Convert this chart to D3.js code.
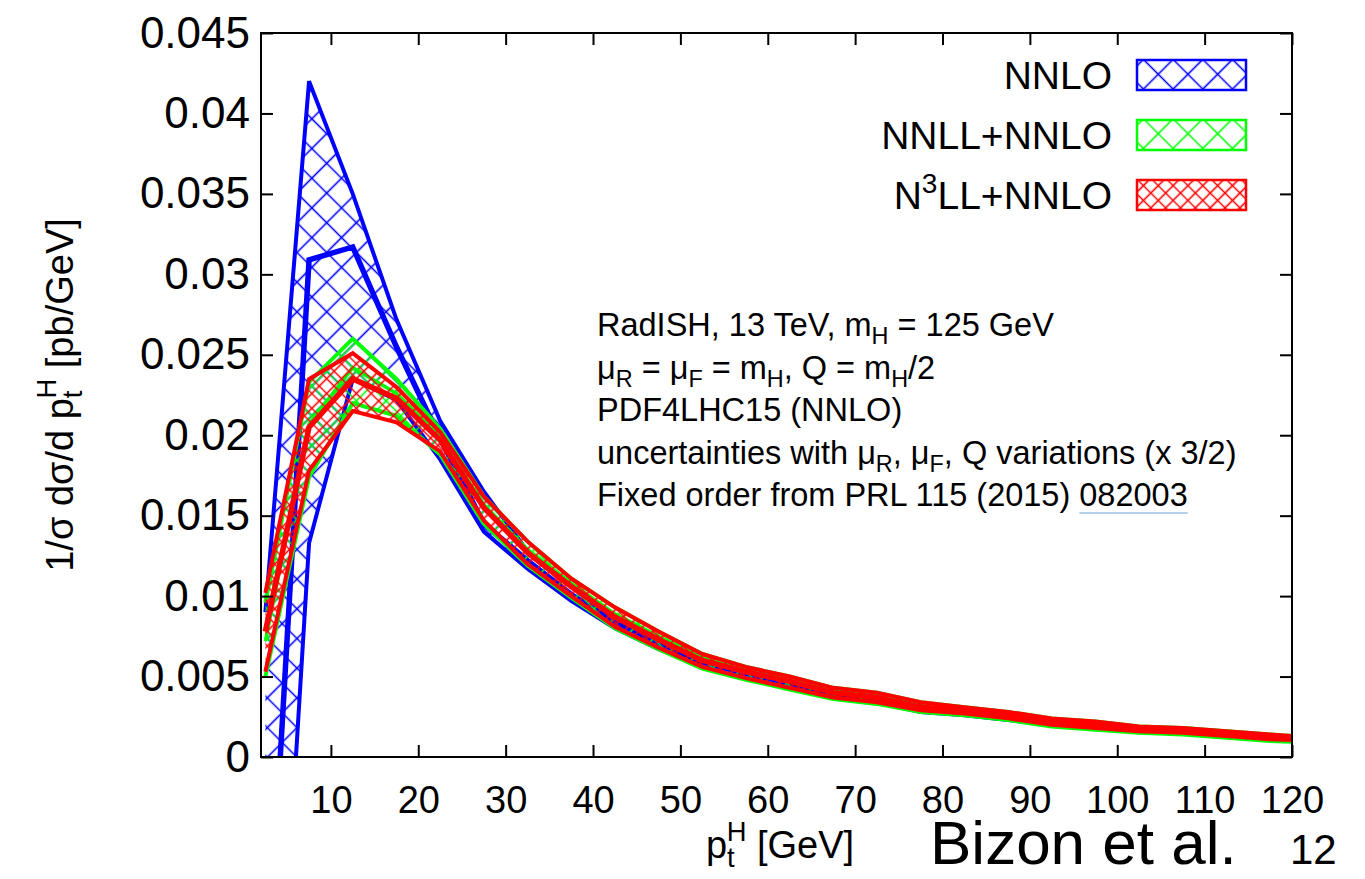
<!DOCTYPE html>
<html>
<head>
<meta charset="utf-8">
<style>
    body {
        margin: 0;
        background: white;
    }

    svg {
        display: block;
        font-family: "Liberation Sans", Arial, Helvetica, sans-serif;
    }
</style>
<script src="https://cdnjs.cloudflare.com/ajax/libs/d3/7.8.5/d3.min.js"></script>
</head>
<body>
<svg id="chart" width="1365" height="879"></svg>
<script>
// bin centres in GeV (last one is past the frame, only to carry the line to the edge)
let ptH = [2.5, 7.5, 12.5, 17.5, 22.5, 27.5, 32.5, 37.5, 42.5, 47.5, 52.5, 57.5, 62.5,
           67.5, 72.5, 77.5, 82.5, 87.5, 92.5, 97.5, 102.5, 107.5, 112.5, 117.5, 122.5]

// NNLO (fixed order)
let nnloUp  = [0.0090, 0.0420, 0.0350, 0.0272, 0.0209, 0.0165, 0.0128, 0.0106, 0.0088, 0.0074, 0.0062, 0.0054, 0.0048,
               0.0041, 0.0038, 0.0032, 0.0030, 0.0027, 0.0023, 0.0021, 0.0018, 0.0017, 0.0015, 0.0013, 0.0011]
let nnloMid = [-0.0160, 0.0309, 0.0317, 0.0255, 0.0198, 0.0145, 0.0122, 0.0101, 0.0084, 0.0071, 0.0059, 0.0052, 0.0046,
               0.0039, 0.0036, 0.0030, 0.0028, 0.0025, 0.0021, 0.0019, 0.0017, 0.0016, 0.0014, 0.0012, 0.0011]
let nnloLo  = [-0.0310, 0.0133, 0.0235, 0.0222, 0.0185, 0.0140, 0.0117, 0.0097, 0.0080, 0.0067, 0.0056, 0.0049, 0.0043,
               0.0037, 0.0034, 0.0028, 0.0026, 0.0023, 0.0020, 0.0018, 0.0016, 0.0015, 0.0013, 0.0011, 0.0010]

// NNLL+NNLO
let nnllUp  = [0.0096, 0.0233, 0.0260, 0.0235, 0.0204, 0.0162, 0.0134, 0.0111, 0.0093, 0.0078, 0.0064, 0.0056, 0.0050,
               0.0043, 0.0040, 0.0034, 0.0031, 0.0028, 0.0024, 0.0022, 0.0019, 0.0018, 0.0016, 0.0014, 0.0012]
let nnllMid = [0.0072, 0.0207, 0.0242, 0.0226, 0.0199, 0.0157, 0.0129, 0.0108, 0.0089, 0.0075, 0.0062, 0.0054, 0.0048,
               0.0041, 0.0038, 0.0032, 0.0029, 0.0026, 0.0022, 0.0020, 0.0018, 0.0016, 0.0015, 0.0013, 0.0011]
let nnllLo  = [0.0050, 0.0174, 0.0220, 0.0212, 0.0188, 0.0145, 0.0119, 0.0099, 0.0080, 0.0067, 0.0055, 0.0048, 0.0042,
               0.0036, 0.0033, 0.0028, 0.0026, 0.0023, 0.0019, 0.0017, 0.0015, 0.0014, 0.0012, 0.0010, 0.0009]

// N3LL+NNLO
let n3llUp  = [0.0102, 0.0235, 0.0251, 0.0230, 0.0202, 0.0162, 0.0134, 0.0111, 0.0093, 0.0078, 0.0064, 0.0056, 0.0050,
               0.0043, 0.0040, 0.0034, 0.0031, 0.0028, 0.0024, 0.0022, 0.0019, 0.0018, 0.0016, 0.0014, 0.0012]
let n3llMid = [0.0078, 0.0205, 0.0235, 0.0223, 0.0197, 0.0155, 0.0127, 0.0106, 0.0087, 0.0073, 0.0060, 0.0053, 0.0047,
               0.0040, 0.0037, 0.0031, 0.0029, 0.0026, 0.0022, 0.0020, 0.0018, 0.0016, 0.0015, 0.0013, 0.0011]
let n3llLo  = [0.0053, 0.0178, 0.0215, 0.0208, 0.0190, 0.0147, 0.0120, 0.0100, 0.0081, 0.0068, 0.0056, 0.0049, 0.0043,
               0.0037, 0.0034, 0.0029, 0.0027, 0.0024, 0.0020, 0.0018, 0.0016, 0.0015, 0.0013, 0.0011, 0.0010]

let xTicks = [10, 20, 30, 40, 50, 60, 70, 80, 90, 100, 110, 120]
let yTicks = [0, 0.005, 0.01, 0.015, 0.02, 0.025, 0.03, 0.035, 0.04, 0.045]
let yTickLabels = ["0", "0.005", "0.01", "0.015", "0.02", "0.025", "0.03", "0.035", "0.04", "0.045"]

let legendNames = ["NNLO", "NNLL+NNLO", "N3LL+NNLO"]

let plot = {left: 261, right: 1292, top: 33, bottom: 757}

let svg = d3.select("#chart")
let defs = svg.append("defs")

let x = d3.scaleLinear().domain([2, 120]).range([plot.left, plot.right])
let y = d3.scaleLinear().domain([0, 0.045]).range([plot.bottom, plot.top])

defs.append("clipPath").attr("id", "plotClip")
    .append("rect")
    .attr("x", plot.left).attr("y", plot.top)
    .attr("width", plot.right - plot.left).attr("height", plot.bottom - plot.top)

// crosshatch: square grid turned by 45 degrees
function hatch(id, color, d) {
    let p = defs.append("pattern")
        .attr("id", id)
        .attr("patternUnits", "userSpaceOnUse")
        .attr("width", d).attr("height", d)
        .attr("patternTransform", "rotate(45)")
    p.append("path")
        .attr("d", `M0,${d / 2}H${d}M${d / 2},0V${d}`)
        .attr("stroke", color)
        .attr("stroke-width", 1.6)
        .attr("fill", "none")
}
hatch("hatchBlue", "#0000ff", 21)
hatch("hatchGreen", "#00ff00", 21)
hatch("hatchRed", "#ff0000", 10.5)

let series = [
    {name: "NNLO", color: "#0000ff", pattern: "hatchBlue", up: nnloUp, mid: nnloMid, lo: nnloLo, w: [4, 5.5]},
    {name: "NNLL+NNLO", color: "#00ff00", pattern: "hatchGreen", up: nnllUp, mid: nnllMid, lo: nnllLo, w: [4, 3.5]},
    {name: "N3LL+NNLO", color: "#ff0000", pattern: "hatchRed", up: n3llUp, mid: n3llMid, lo: n3llLo, w: [4, 5.5]}
]

let area = d3.area()
    .x(d => x(d.x))
    .y0(d => y(d.lo))
    .y1(d => y(d.up))

let bands = svg.append("g").attr("clip-path", "url(#plotClip)")

series.forEach(s => {
    let rows = ptH.map((p, i) => ({x: p, up: s.up[i], mid: s.mid[i], lo: s.lo[i]}))
    let g = bands.append("g")
    g.append("path")
        .attr("d", area(rows))
        .attr("fill", `url(#${s.pattern})`)
    ;[["up", s.w[0]], ["lo", s.w[0]], ["mid", s.w[1]]].forEach(([key, w]) => {
        let line = d3.line().x(d => x(d.x)).y(d => y(d[key]))
        g.append("path")
            .attr("d", line(rows))
            .attr("fill", "none")
            .attr("stroke", s.color)
            .attr("stroke-width", w)
            .attr("stroke-linejoin", "miter")
    })
})

// axes, ticks on all four sides pointing inwards
function styleAxis(g) {
    g.select(".domain").remove()
    g.selectAll(".tick line").attr("stroke", "#000").attr("stroke-width", 2)
    g.selectAll(".tick text").attr("fill", "#000")
}

svg.append("g")
    .attr("transform", `translate(0,${plot.bottom})`)
    .call(d3.axisBottom(x).tickValues(xTicks).tickSize(-12).tickPadding(29))
    .attr("font-size", 38)
    .attr("font-family", null)
    .call(styleAxis)

svg.append("g")
    .attr("transform", `translate(0,${plot.top})`)
    .call(d3.axisTop(x).tickValues(xTicks).tickSize(-12).tickFormat(""))
    .call(styleAxis)

svg.append("g")
    .attr("transform", `translate(${plot.left},0)`)
    .call(d3.axisLeft(y).tickValues(yTicks).tickSize(-12).tickPadding(11)
        .tickFormat((d, i) => yTickLabels[i]))
    .attr("font-size", 44)
    .attr("font-family", null)
    .call(styleAxis)

svg.append("g")
    .attr("transform", `translate(${plot.right},0)`)
    .call(d3.axisRight(y).tickValues(yTicks).tickSize(-12).tickFormat(""))
    .call(styleAxis)

svg.append("rect")
    .attr("x", plot.left).attr("y", plot.top)
    .attr("width", plot.right - plot.left).attr("height", plot.bottom - plot.top)
    .attr("fill", "none")
    .attr("stroke", "#000")
    .attr("stroke-width", 2)

// text with sub/superscripts: parts are [text, baseline shift, dx]
function rich(t, parts, size) {
    let cur = 0
    parts.forEach(([str, shift, dx]) => {
        let ts = t.append("tspan").text(str).attr("dy", shift - cur)
        if (dx) ts.attr("dx", dx)
        if (shift !== 0) ts.attr("font-size", size * 0.72)
        cur = shift
    })
}

// legend
let legend = svg.append("g")
series.forEach((s, i) => {
    let cy = 75 + i * 60
    let t = legend.append("text")
        .attr("x", 1112).attr("y", cy + 14)
        .attr("text-anchor", "end")
        .attr("font-size", 39)
    if (i === 2) rich(t, [["N", 0], ["3", -16], ["LL+NNLO", 0]], 39)
    else t.text(legendNames[i])
    legend.append("rect")
        .attr("x", 1137).attr("y", cy - 15)
        .attr("width", 109).attr("height", 30)
        .attr("fill", `url(#${s.pattern})`)
        .attr("stroke", s.color)
        .attr("stroke-width", 2.5)
})

// annotation block
let notes = [
    [["RadISH, 13 TeV, m", 0], ["H", 8], [" = 125 GeV", 0]],
    [["μ", 0], ["R", 8], [" = μ", 0], ["F", 8], [" = m", 0], ["H", 8], [", Q = m", 0], ["H", 8], ["/2", 0]],
    [["PDF4LHC15 (NNLO)", 0]],
    [["uncertainties with μ", 0], ["R", 8], [", μ", 0], ["F", 8], [", Q variations (x 3/2)", 0]],
    [["Fixed order from PRL 115 (2015) ", 0], ["082003", 0]]
]
let noteText
notes.forEach((parts, i) => {
    noteText = svg.append("text")
        .attr("x", 597).attr("y", 336 + i * 42.5)
        .attr("font-size", 32.5)
    rich(noteText, parts, 32.5)
})
let full = "Fixed order from PRL 115 (2015) 082003"
let n0 = full.indexOf("082003")
let node = noteText.node()
let ux0 = node.getStartPositionOfChar(n0).x
let ux1 = node.getEndPositionOfChar(full.length - 1).x
svg.append("line")
    .attr("x1", ux0).attr("x2", ux1)
    .attr("y1", 513).attr("y2", 513)
    .attr("stroke", "#9cc3e0").attr("stroke-width", 1.5)

// axis titles
let yTitle = svg.append("text")
    .attr("transform", "translate(73,395) rotate(-90)")
    .attr("text-anchor", "middle")
    .attr("font-size", 38)
rich(yTitle, [["1/σ dσ/d p", 0], ["t", 9], ["H", -17, -8], [" [pb/GeV]", 0]], 38)

let xTitle = svg.append("text")
    .attr("x", 780).attr("y", 858)
    .attr("text-anchor", "middle")
    .attr("font-size", 38)
rich(xTitle, [["p", 0], ["t", 9], ["H", -17, -8], [" [GeV]", 0]], 38)

// slide footer
svg.append("text")
    .attr("x", 930).attr("y", 864)
    .attr("font-size", 62)
    .text("Bizon et al.")
svg.append("text")
    .attr("x", 1290).attr("y", 864)
    .attr("font-size", 42)
    .text("12")
</script>
</body>
</html>
